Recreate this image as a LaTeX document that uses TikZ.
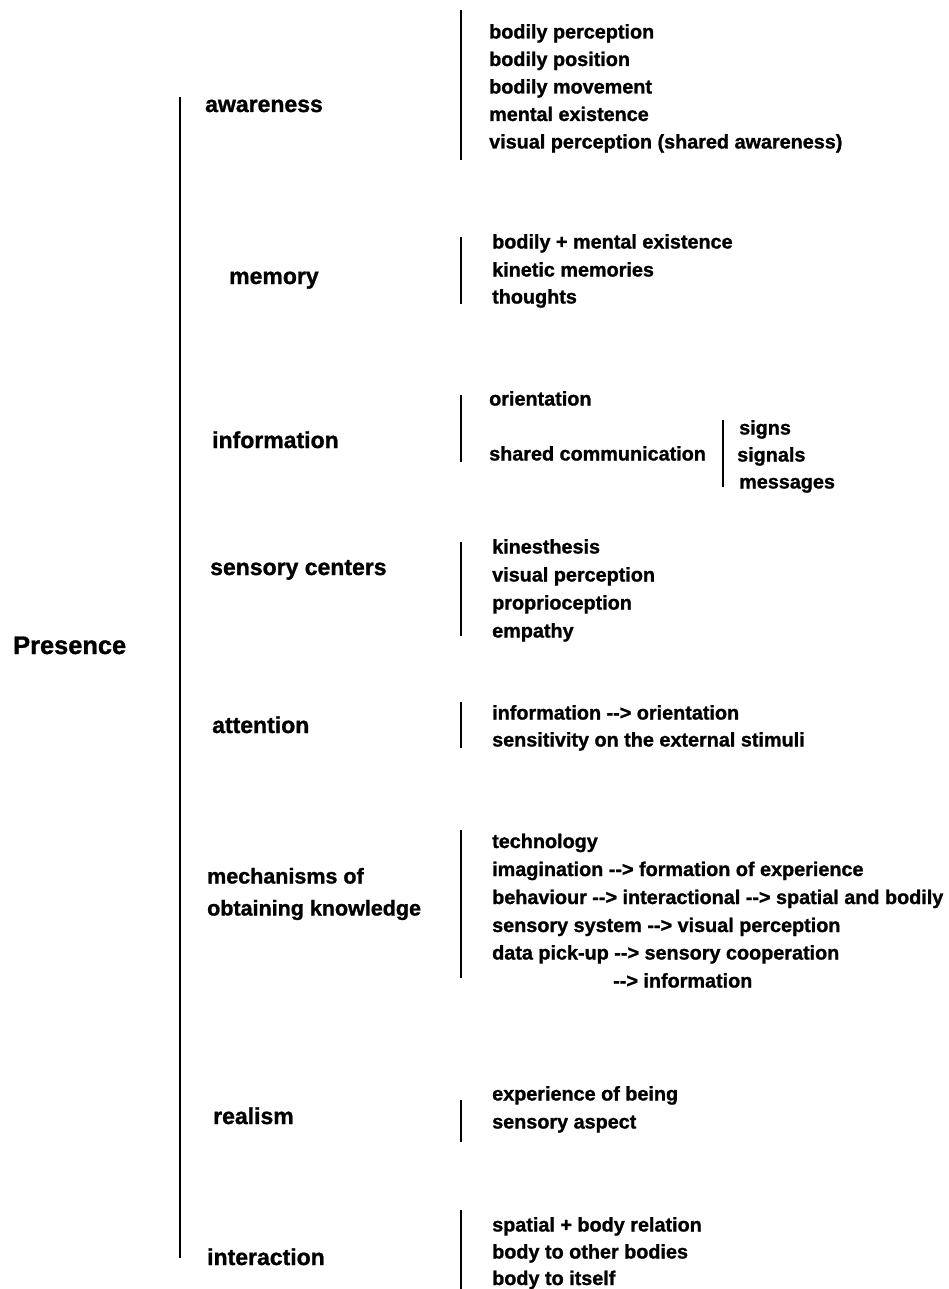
\documentclass[tikz,border=0pt]{standalone}
\usepackage{fontspec}
\setmainfont{Liberation Sans}[BoldFeatures={FakeBold=1.2}]
\begin{document}
\begin{tikzpicture}[x=1pt,y=-1pt,
  itm/.style={anchor=base west, inner sep=0pt, font=\fontsize{19.8}{24}\selectfont\bfseries},
  cat/.style={anchor=base west, inner sep=0pt, font=\fontsize{23}{27}\selectfont\bfseries},
  cats/.style={anchor=base west, inner sep=0pt, font=\fontsize{21.5}{32}\selectfont\bfseries},
  root/.style={anchor=base west, inner sep=0pt, font=\fontsize{25.4}{30}\selectfont\bfseries},
  bar/.style={line width=2.4pt, black}]
\useasboundingbox (0,0) rectangle (948,1289);
\fill[white] (0,0) rectangle (948,1289);

% root
\node[root] (presence) at (13,654) {Presence};
\coordinate (mtop) at (180,97);
\coordinate (mbot) at (180,1258);
\draw[bar] (mtop) -- (mbot);

% awareness
\node[cat] (awareness) at (205,112) {awareness};
\coordinate (a1) at (461,10); \coordinate (a2) at (461,160);
\draw[bar] (a1) -- (a2);
\node[itm] (aw1) at (489,38.5) {bodily perception};
\node[itm] (aw2) at (489,66) {bodily position};
\node[itm] (aw3) at (489,93.5) {bodily movement};
\node[itm] (aw4) at (489,121) {mental existence};
\node[itm] (aw5) at (489,148.5) {visual perception (shared awareness)};

% memory
\node[cat] (memory) at (229,284) {memory};
\coordinate (m1) at (461,237); \coordinate (m2) at (461,304);
\draw[bar] (m1) -- (m2);
\node[itm] (me1) at (492,248.5) {bodily + mental existence};
\node[itm] (me2) at (492,276.5) {kinetic memories};
\node[itm] (me3) at (492,303.5) {thoughts};

% information
\node[cat] (information) at (212,448) {information};
\coordinate (i1) at (461,395); \coordinate (i2) at (461,462);
\draw[bar] (i1) -- (i2);
\node[itm] (in1) at (489,405.5) {orientation};
\node[itm] (in2) at (489,460.5) {shared communication};
\coordinate (s1) at (723,420); \coordinate (s2) at (723,487);
\draw[bar] (s1) -- (s2);
\node[itm] (sg1) at (739,434.5) {signs};
\node[itm] (sg2) at (737,461.5) {signals};
\node[itm] (sg3) at (739,488.5) {messages};

% sensory centers
\node[cat] (sensory) at (210,575) {sensory centers};
\coordinate (c1) at (461,542); \coordinate (c2) at (461,636);
\draw[bar] (c1) -- (c2);
\node[itm] (se1) at (492,553.5) {kinesthesis};
\node[itm] (se2) at (492,581.5) {visual perception};
\node[itm] (se3) at (492,609.5) {proprioception};
\node[itm] (se4) at (492,637.5) {empathy};

% attention
\node[cat] (attention) at (212,733) {attention};
\coordinate (t1) at (461,702); \coordinate (t2) at (461,748);
\draw[bar] (t1) -- (t2);
\node[itm] (at1) at (492,719.5) {information -{}-> orientation};
\node[itm] (at2) at (492,746.5) {sensitivity on the external stimuli};

% mechanisms
\node[cats] (mech1) at (207,883.5) {mechanisms of};
\node[cats] (mech2) at (207,915.5) {obtaining knowledge};
\coordinate (k1) at (461,830); \coordinate (k2) at (461,978);
\draw[bar] (k1) -- (k2);
\node[itm] (mk1) at (492,848) {technology};
\node[itm] (mk2) at (492,876) {imagination -{}-> formation of experience};
\node[itm] (mk3) at (492,904) {behaviour -{}-> interactional -{}-> spatial and bodily};
\node[itm] (mk4) at (492,932) {sensory system -{}-> visual perception};
\node[itm] (mk5) at (492,959.5) {data pick-up -{}-> sensory cooperation};
\node[itm] (mk6) at (613,987.5) {-{}-> information};

% realism
\node[cat] (realism) at (213,1124) {realism};
\coordinate (r1) at (461,1100); \coordinate (r2) at (461,1142);
\draw[bar] (r1) -- (r2);
\node[itm] (re1) at (492,1100.5) {experience of being};
\node[itm] (re2) at (492,1128.5) {sensory aspect};

% interaction
\node[cat] (interaction) at (207,1265) {interaction};
\coordinate (x1) at (461,1210); \coordinate (x2) at (461,1289);
\draw[bar] (x1) -- (x2);
\node[itm] (ia1) at (492,1231.5) {spatial + body relation};
\node[itm] (ia2) at (492,1258.5) {body to other bodies};
\node[itm] (ia3) at (492,1285) {body to itself};
\end{tikzpicture}
\end{document}
